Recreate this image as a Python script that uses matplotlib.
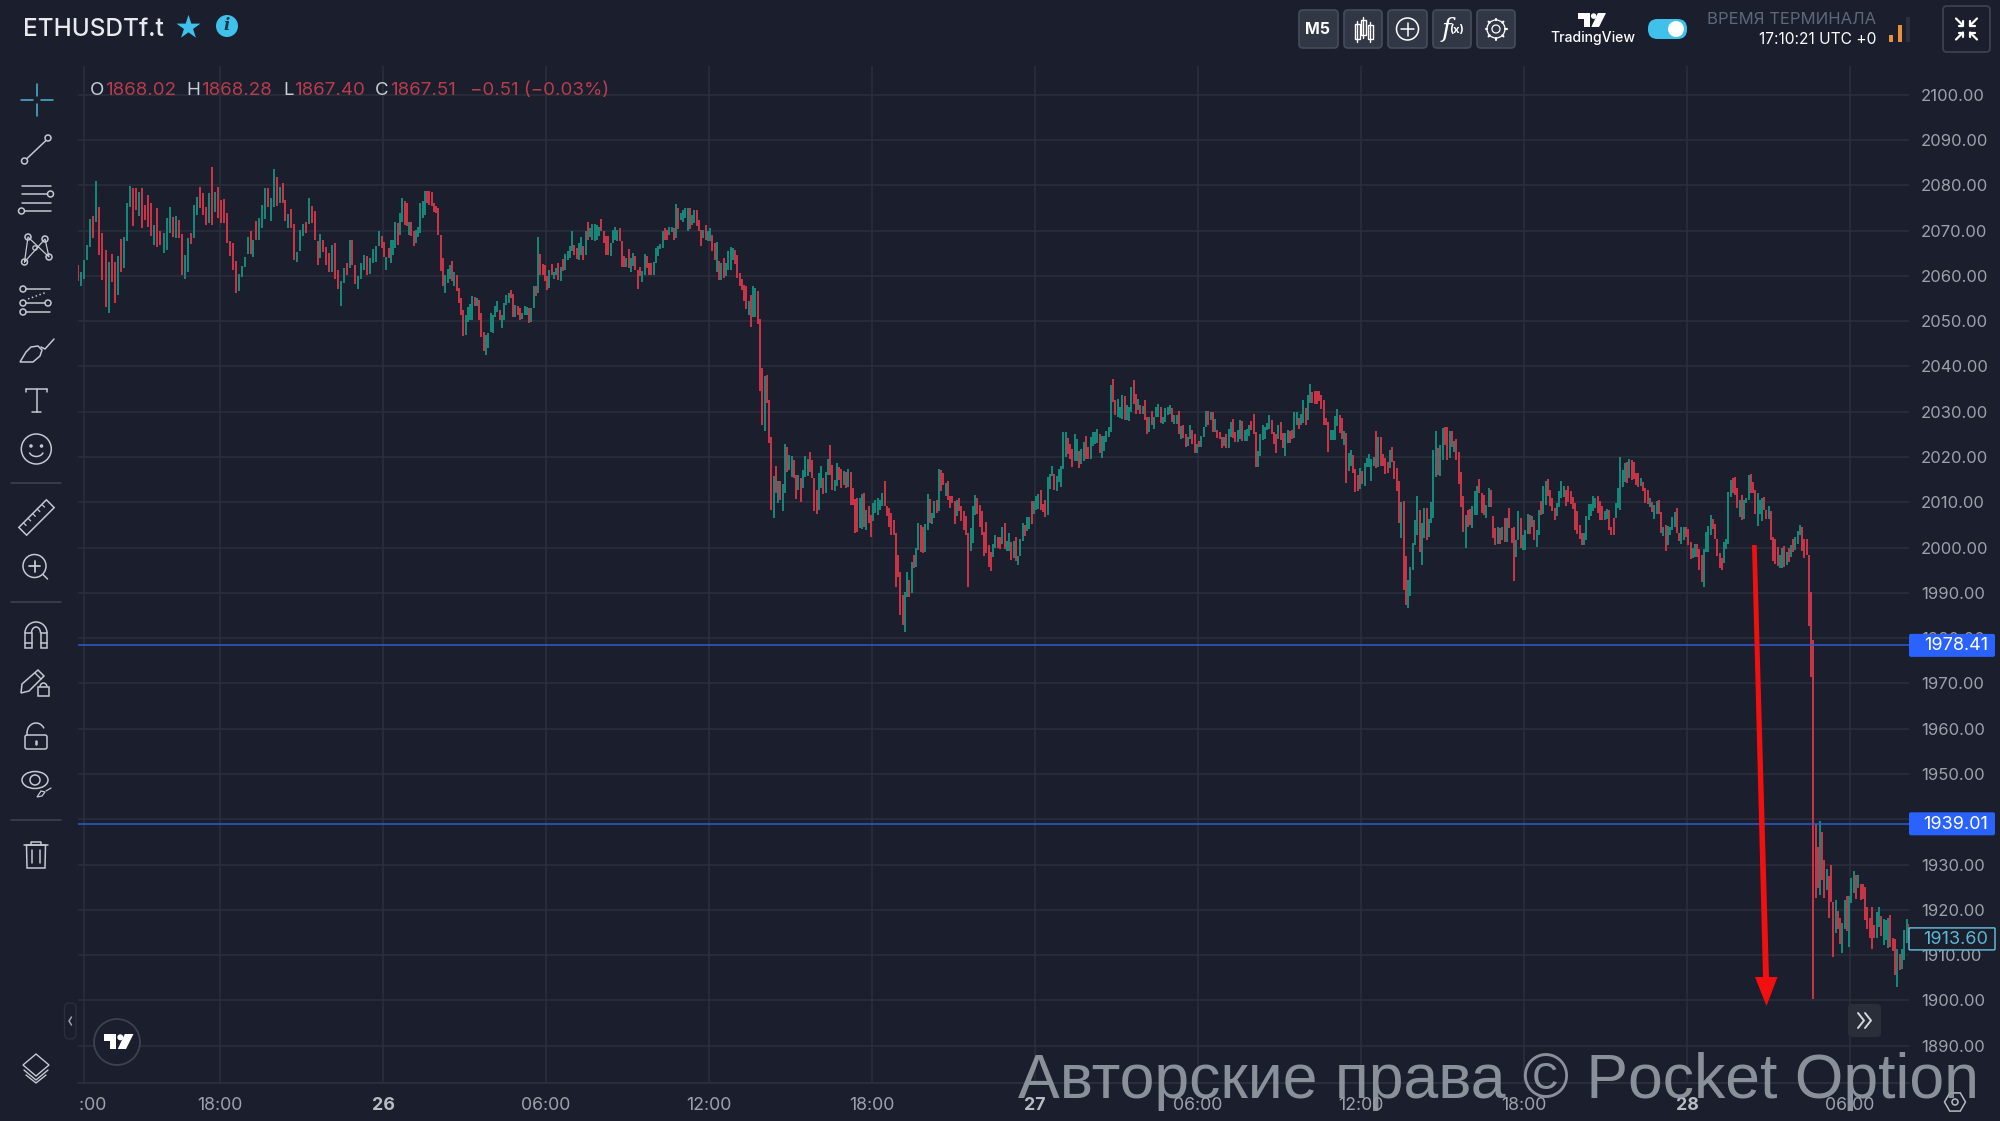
import numpy as np
import matplotlib
matplotlib.use('Agg')
import matplotlib.pyplot as plt
from matplotlib.patches import Rectangle, Circle, Polygon, FancyBboxPatch, Ellipse, Arc

BG = '#1a1e2d'
GRID = '#2b2f3c'
ICON = '#c4c8d0'
UP = '#16897b'
DOWN = '#cb3548'
LABEL = '#9da2aa'
CYAN = '#3fc1ec'

# hours relative to 26th 00:00
tick_hours = [-11, -6, 0, 6, 12, 18, 24, 30, 36, 42, 48, 54]
tick_labels = ['13:00', '18:00', '26', '06:00', '12:00', '18:00', '27', '06:00', '12:00', '18:00', '28', '06:00']
price_ticks = list(range(1890, 2101, 10))
level_prices = [1978.41, 1939.01]
last_price = 1913.60

# every window is a list of (open, close), red when close < open
window_edges = [-11.28, -6, 0, 6, 12, 18, 24, 30, 36, 42, 48, 54, 56.2]

win_01 = [(2062.4,2058.9),(2057.8,2060.9),(2059.4,2063.5),(2063.5,2066.8),(2066.4,2072.5),(2073.3,2068.3),(2072,2081),
(2075.1,2064.6),(2069.4,2059.1),(2065.7,2053.2),(2051.7,2063),(2064.8,2058.7),(2063,2053.9),(2055.8,2064.4),(2068.1,2060.8),
(2061.7,2068.5),(2067.8,2076),(2075.3,2079.9),(2079.5,2071),(2079.5,2074.5),(2073.3,2078.5),(2079.5,2070.6),(2075.7,2072.3),
(2077.9,2070.9),(2076.2,2068.9),(2066.8,2071.2),(2074.9,2066.4),(2069.8,2066.8),(2065,2069.4),(2065.7,2072.7),(2069.4,2075.3),
(2073.1,2068.5),(2068.3,2073.3),(2072.3,2068.3),(2069.2,2060.2),(2059.4,2064.6),(2060.8,2068.3),(2069.4,2067),(2068.3,2075.7),
(2073.4,2077.5),(2079.7,2074.9),(2078.2,2073.4),(2075.3,2071.2),(2071.7,2078.2),(2084,2071.2),(2074.2,2078.6),(2079.7,2072.7)]

win_02 = [(2076.8,2071.6),(2077,2071.6),(2073.8,2067.2),(2067.8,2064.4),(2067.2,2061.4),(2063.3,2056.3),(2056.6,2060.5),
(2059.8,2062.2),(2062,2064.2),(2064.8,2068.5),(2069.9,2064.8),(2064.1,2067.9),(2072.2,2067.9),(2067.9,2072.7),(2070.5,2075.7),
(2072.5,2079.5),(2079.3,2075.3),(2072.1,2077.1),(2075.3,2083.6),(2081.9,2075.4),(2076,2079.7),(2080.4,2076),(2076.8,2072.1),
(2070.6,2073.6),(2074.7,2070.5),(2071.5,2063.5),(2063.1,2065.3),(2065.6,2070.1),(2068.8,2071.5),(2071.8,2069.4),(2071.5,2077.1),
(2075.4,2071.7),(2074.4,2067.9),(2067.8,2062.4),(2063.9,2069.2),(2067.9,2065.3),(2066.4,2062.5),(2065,2060.9),(2060.9,2066.8),
(2067.2,2059.4),(2061.3,2057),(2053.3,2058.9),(2058.5,2061.7),(2062.9,2060.2),(2061.7,2067.9),(2067.9,2062.4),(2062.4,2058.3),
(2057,2060),(2059.2,2062.9),(2061.4,2064.6),(2064.4,2060.2),(2060.4,2063.9),(2062.8,2065.9),(2063.1,2066.7),(2066.6,2070),(2068.7,2066.1)]

win_03 = [(2067.5,2064.2),(2061.3,2064.2),(2066.1,2064),(2062.8,2068),(2064.7,2068),(2066.2,2071.9),(2071.7,2066.9),(2069.1,2073.9),
(2072,2077.2),(2076.5,2071.3),(2076,2071),(2069.1,2072),(2072,2068.7),(2069.8,2066.7),(2067.3,2070.2),(2068.6,2070.9),
(2069.5,2076.1),(2072.8,2076.5),(2073.5,2078.8),(2078.8,2076),(2078.7,2075.7),(2078.5,2075.4),(2076.1,2074.2),(2075.5,2073.9),
(2075,2069.1),(2069.1,2061),(2063.9,2057.7),(2056.2,2060.3),(2058.4,2061.5),(2059.3,2062.5),(2063.2,2058.8),(2057.7,2060.9),
(2060.3,2056.6),(2057.3,2054.1),(2055.1,2051.4),(2052.5,2046.8),(2047,2051.4),(2049.9,2053.2),(2050.2,2053.8),(2050.3,2055.5),
(2055.3,2053.4),(2053.4,2055.1),(2054.7,2050.3),(2051.8,2046.5),(2047.7,2043.4),(2042.6,2047),(2044,2047.4),(2047.5,2051.8),
(2047.4,2051.4),(2051,2053.4),(2052.1,2054.4),(2052.4,2050.3),(2048.5,2051.4),(2050.2,2054),(2053.6,2055.8),(2054,2056.2),
(2056.9,2055.1),(2056,2051),(2051,2053.6),(2053.4,2051.4),(2052.9,2050.3),(2050.4,2051.8),(2051.4,2053.4),(2051.4,2053.2),
(2052.9,2049.7),(2049.9,2052.9),(2052.9,2057.8),(2057.8,2055.6),(2056.2,2068.5),(2064.8,2060.3),(2062.7,2060.3),(2062.3,2058.8)]

win_04 = [(2059.9,2056.9),(2057.3,2061.4),(2062.7,2060.3),(2059.3,2060.8),(2060.3,2061.7),(2062.8,2059.1),(2058.8,2062),(2063.7,2061),
(2061.4,2064.9),(2063.6,2065.4),(2063.9,2066.5),(2065.4,2070),(2066.9,2064.5),(2066.1,2063.7),(2063.4,2067.3),(2064.5,2068.6),
(2066.7,2063.4),(2064.7,2070),(2071.9,2068),(2068.6,2070.6),(2068,2071.5),(2067.8,2071.5),(2068,2071.3),(2068.7,2070.9),
(2072.6,2069.8),(2069.8,2067.3),(2068.7,2064.5),(2068.7,2064.5),(2064.3,2067.3),(2067.3,2070.2),(2068,2070.9),(2067.6,2070.2),
(2070.6,2067.6),(2067.6,2061.9),(2064.3,2061.9),(2061.9,2063.9),(2065.9,2061.7),(2060.8,2063.9),(2062.2,2065),(2064.3,2061.4),
(2061.4,2057.2),(2062,2059.9),(2058.6,2061),(2060.3,2064.9),(2064.3,2061.7),(2062.8,2060.3),(2062.8,2060.3),(2060.3,2063),
(2062.8,2066.1),(2064.3,2066.5),(2066,2067),(2066.1,2070),(2070.6,2068),(2070.2,2068),(2069.1,2070.8),(2069.6,2070.9),
(2070.6,2068),(2068.4,2075.9),(2075,2070.3),(2072.3,2073.9),(2072,2074.6),(2072.8,2075),(2070,2075),(2075,2070.4),
(2071.3,2073.5),(2071.7,2074.5),(2074.5,2071.1),(2072.4,2069.8),(2070.2,2066.5),(2068.4,2070.2),(2071.3,2068),(2067.8,2069.8)]

win_05 = [(2067.8,2070.6),(2069.1,2065.6),(2067.3,2063.6),(2060.8,2067.4),(2063.2,2059),(2059.1,2062.8),(2063.9,2059.5),(2060,2062.8),
(2061.4,2065.4),(2061.2,2066.3),(2063.6,2066.1),(2065.8,2062.7),(2064.7,2059.5),(2060.6,2057.7),(2059.3,2056.8),(2058,2054.4),
(2057.8,2052.7),(2051.4,2054.4),(2055.8,2048.8),(2050.9,2057.7),(2051,2057.3),(2056.6,2049.4),(2050.4,2034.5),(2039.6,2027.1),
(2025.8,2037.8),(2038.2,2031.9),(2032.6,2023.1),(2024.4,2008.3),(2006.5,2015.9),(2018.1,2012),(2009.8,2014.6),(2014.8,2010.5),
(2008,2014.1),(2012,2022.9),(2022.3,2016.8),(2017.2,2020.5),(2015.7,2020.3),(2019.4,2015.3),(2016.1,2010.8),(2012.8,2016.1),
(2015.3,2010),(2013.1,2017.2),(2015.6,2020.3),(2015.9,2019.5),(2021.2,2016.8),(2019.4,2015.3),(2015.3,2008),(2012.8,2007.5),
(2008.3,2016.4),(2013.1,2018.1),(2015.3,2011.9),(2012,2016.8),(2016.1,2019.5),(2022.7,2016.1),(2018.3,2012.8),(2012.6,2015),
(2013.5,2018.7),(2017.9,2015),(2017.3,2013.1),(2013.9,2017),(2016.8,2013.1),(2013.3,2017.4),(2016.8,2009.4),(2013.1,2009.4),
(2010.7,2003.3),(2010.9,2003.5),(2004.3,2010.9),(2004.1,2011.9),(2012,2004.6),(2003.9,2008.3),(2009.1,2005.5),(2007.2,2002.3)]

win_06 = [(2005.8,2009.8),(2007.6,2010.5),(2007.2,2010.9),(2008.3,2010.5),(2009.1,2012),(2014.6,2009.1),(2009.1,2006.9),(2008.7,2004.6),
(2007.6,2002.8),(2006.1,2002.8),(2003.2,1991.4),(1998.4,1993.6),(1994.7,1985.1),(1989.5,1982.9),(1981.3,1990.1),(1989.2,1994.7),
(1992.9,1989.2),(1989.9,1996.9),(1998.4,1995.4),(1995.8,1999.9),(1999.5,2005.4),(2005,1999.1),(2004.6,1998.9),(1999.1,2005.2),
(2003.9,2011.9),(2010.8,2005.4),(2005.2,2007.6),(2006.5,2010.2),(2010.5,2007.6),(2008,2017.4),(2017.2,2012.4),(2016.4,2013.9),
(2011.4,2014.2),(2014.7,2010.5),(2011.3,2008.7),(2011.3,2009.8),(2010.2,2005.2),(2006.9,2010.5),(2010.9,2008),(2009.1,2005.8),
(2008,2003.9),(2006.9,2002.8),(2003.2,1991.4),(1999.3,2004.3),(2001.1,2009.1),(2007.2,2011.6),(2010.9,2007.5),(2009.4,2004.5),
(2008,2002.8),(2003.5,1998.2),(2005.6,1998.9),(2000.5,1995.8),(1999.1,1994.9),(1998,2000.8),(1999.9,2002.8),(2002.4,1999.9),
(2002.3,1999.7),(2000.8,2004.5),(2005.4,1999.7),(1999.3,2001.5),(1999.3,2003.2),(2001.2,1997.3),(1997.8,2001.5),(2002.3,1997.1),
(1996.2,1998.2),(1998.2,2001.8),(2001.5,2005.4),(2004.9,2002.6),(2003.7,2006.8),(2004.1,2006.8),(2010.2,2005.2),(2007.4,2010.2)]

win_07 = [(2008.2,2011.5),(2008.5,2011.8),(2012.7,2008.2),(2009.6,2007.8),(2010.6,2006.7),(2007.1,2015.5),(2013,2016.3),(2015.9,2018.1),
(2016.3,2012.7),(2012.4,2015.9),(2014.4,2017.4),(2013.3,2018.1),(2017.4,2025.5),(2020,2025.5),(2024.2,2020.7),(2022.9,2019.6),
(2021.8,2017.7),(2019.2,2025.1),(2019.2,2024),(2021.4,2017.6),(2018.5,2021.8),(2019.2,2023.4),(2024.7,2019.6),(2022.2,2019.6),
(2019.6,2024.5),(2022.5,2025.5),(2022.9,2025.5),(2023.1,2026.2),(2025,2020.8),(2019.7,2024.7),(2021.4,2024.7),(2023.3,2025.7),
(2024.4,2026.7),(2025.5,2035.8),(2037.3,2032.1),(2032.5,2029.2),(2028.8,2032.9),(2028.7,2031),(2028.4,2033.6),(2033.4,2028.2),
(2028.1,2031.4),(2027.9,2031),(2029.9,2035.4),(2036.9,2031.7),(2034,2029.5),(2030.3,2032.9),(2031.4,2029.5),(2029.4,2031.2),
(2032.6,2028.1),(2028.8,2025),(2025.5,2028.8),(2030.1,2027),(2026.2,2028.8),(2028.8,2031),(2028.8,2031.6),(2031,2027.5),
(2027.3,2028.9),(2027.7,2030.9),(2029.2,2031),(2029.5,2031.4),(2030.8,2027.7),(2027.2,2029.2),(2027.3,2029.2),(2030.1,2025),
(2024,2026.8),(2027.1,2024.2),(2025,2022.2),(2022.5,2024.5),(2024,2027),(2026,2022.9),(2025.1,2020.9),(2020.9,2022.9)]

win_08 = [(2023.6,2022.2),(2022.2,2024.7),(2024.4,2026.7),(2026.6,2030.1),(2030.1,2027),(2028.2,2029.9),(2029.9,2025.5),(2025.5,2028.4),
(2026,2024.2),(2025.5,2024),(2024.5,2022),(2022.5,2024.5),(2025.1,2022),(2022,2026.2),(2024.5,2027.8),(2028.4,2024.2),
(2025.5,2023.3),(2023.3,2025.9),(2024,2028.2),(2027.9,2023.6),(2023.6,2026),(2023.6,2026.2),(2024.7,2027),(2027.9,2025.9),
(2029.4,2025.1),(2025.5,2017.9),(2017.9,2021.4),(2020.3,2025),(2023.8,2027.1),(2024,2026.7),(2026,2027.5),(2026.2,2029.2),
(2028.2,2025),(2025.5,2022.9),(2025.1,2020.8),(2024,2027),(2027.7,2023.8),(2025.3,2022),(2020.3,2025.3),(2023.1,2026),
(2025.7,2023.2),(2026,2024),(2024.2,2029.9),(2027.1,2029.9),(2028.6,2026.2),(2027.1,2029.6),(2027.5,2032.7),(2030.8,2027.1),
(2028.2,2033.8),(2031.9,2036.2),(2034.3,2031.9),(2034.5,2031.8),(2034.5,2031.8),(2034.6,2032.3),(2033.8,2030.6),(2032.7,2027.1),
(2028.6,2027),(2027.7,2021),(2023.8,2026),(2023.8,2025.9),(2023.8,2029),(2026.8,2030.6),(2029.3,2025.3),(2028.6,2024),
(2022.7,2025.7),(2025.3,2014.2),(2017,2020.9),(2018.1,2021.6),(2020.5,2016.4),(2017.3,2012.2),(2016.1,2012.4),(2012.9,2017.5)]

win_09 = [(2017,2014.1),(2013.5,2018.7),(2017.8,2019.8),(2017.9,2020.7),(2014.8,2019.5),(2018.1,2020),(2025.7,2017.5),(2017.8,2024.5),
(2024.4,2018.1),(2020.7,2018.1),(2019.8,2016.3),(2019,2016.4),(2017.5,2021.5),(2022.2,2019),(2019.2,2015.1),(2017.5,2012.6),
(2014.6,2005.4),(2002.1,2010),(2010.3,1990.6),(1998.2,1987.3),(1986.6,1992.9),(1989.3,1995.8),(1995.1,2001),(2000.6,2006.1),
(2002.8,2011.3),(2008.3,1999.1),(1996.2,2005.4),(2002.1,2008.7),(2008.7,2001.6),(2002.3,2006.3),(2005.5,2010),(2006.5,2021.6),
(2015.7,2025.7),(2022,2016.1),(2015.9,2022.6),(2019.4,2026.4),(2026.6,2022.7),(2026.6,2019.4),(2019.8,2025.7),(2025.7,2022.3),
(2021,2023.6),(2024,2019.4),(2021.2,2014.1),(2016.6,2008.9),(2011.4,2003.5),(2000,2007.2),(2008.3,2004.6),(2008.5,2005),
(2004.3,2009.2),(2007.2,2012.4),(2007.2,2013.5),(2015.2,2012),(2012,2007.6),(2011.7,2007.2),(2006.5,2009.4),(2008.9,2013.1),
(2012.8,2008.9),(2006.9,2002.1),(2004.3,2000.6),(2000.8,2004.5),(2004.3,2000.8),(2001.7,2004.6),(2006.5,2001.3),(2001.2,2006.5),
(2008.7,2004.3),(2004.3,2001),(2004.5,1992.7),(1998,2001.7),(2001.7,2008.1),(2006.5,1999.9),(1999.5,2002.8)]

win_10 = [(1999.5,2003.9),(2003,2007.5),(2007.2,2003),(2004.6,2007),(2006.1,2001.6),(2000.2,2003.9),(2002.8,2008.2),(2010.4,2007.2),
(2007.4,2013.5),(2009.4,2014.6),(2015.2,2011.3),(2012.8,2009.1),(2010.9,2008),(2008.7,2006),(2006.9,2009.8),(2008.9,2012.4),
(2010.9,2014.6),(2011.1,2013.6),(2012.8,2009.1),(2013.6,2010),(2012.4,2009.7),(2011.1,2008.5),(2009.8,2003.9),(2008,2003),
(2005,2001.9),(2003.3,2000.6),(2000.5,2003.2),(2001.7,2007),(2006.1,2009.7),(2007,2009.7),(2008,2011.4),(2008.7,2010.9),
(2011.3,2007.7),(2010.4,2006.1),(2009.1,2006.1),(2006,2008),(2006.3,2008.5),(2008.3,2003.9),(2004.6,2002.8),(2006.5,2002.8),
(2006.5,2009.8),(2008.7,2013.1),(2008.3,2020),(2013.4,2017.1),(2014.5,2018.7),(2019,2014.3),(2015.3,2019.5),(2019.3,2014.9),
(2019,2015.1),(2016.5,2013.8),(2016.4,2013.4),(2013.6,2015.3),(2014.5,2012.6),(2013.1,2009.8),(2012.7,2009.6),(2009,2010.9),
(2010.1,2007.9),(2006.3,2009.4),(2007.5,2010.3),(2010.5,2007.5),(2007.9,2003.3),(2002.5,2004.6),(2005,1999.3),(2000.5,2004.7),
(2002.8,2004.5),(2003.9,2006.7),(2004.5,2007.9),(2008.7,2003.3),(2003.3,2001.5),(2000.8,2004.5),(2001.7,2004.5),(2004.5,2002.4)]

win_11 = [(2004,2000.5),(2001.3,1997.4),(1997.6,2000),(1998,2000.9),(2000.9,1998),(1999.6,1995),(1998.3,1992.4),(1991.3,1999.6),
(1999.1,2003.5),(1999.1,2004.7),(2002.8,2007.2),(2006.4,2004.2),(2005.3,2001.9),(2001.9,1998.1),(1998.7,1995.6),(1997.8,1995),
(1996.5,2001.3),(1999.8,2001.9),(2000.9,2012.3),(2011.2,2014.9),(2015.3,2012),(2015.7,2011.7),(2013.1,2008.7),(2006.8,2010.5),
(2011.6,2006.2),(2006.4,2010.6),(2009.8,2010.9),(2010.5,2016),(2016.2,2012),(2014.5,2012),(2012.7,2007.4),(2004.7,2012),
(2007.5,2010.5),(2005.9,2010.9),(2011.1,2008.3),(2008.4,2006.3),(2006.4,2009.2),(2008.1,2001.7),(2002.4,1997.1),(2001.8,1996.3),
(2000.2,1995.9),(1995.4,1998.3),(1995.6,2000),(2000.3,1995.8),(1996.1,1999.1),(2000,1996.9),(1998,2000.5),(2002,1999.1),
(1999.4,2002.4),(2000.9,2003.7),(2002.8,2005),(2004.5,1999.3),(2002,1997.8),(2002,1998.3),(1998.3,1982.6),(1990.2,1971.5),
(1979.6,1900.3),(1939,1922.7),(1934,1924.8),(1923.4,1939.6),(1937.3,1926.6),(1931,1922.6),(1924.4,1929),(1927.4,1918.2),
(1930,1921.8),(1921.8,1909.5),(1915,1922.3),(1919.8,1915.7),(1918.3,1912.4),(1910.4,1917.2),(1915.7,1922.2),(1923,1915.3),(1911.8,1923)]

win_12 = [(1921.6,1927),(1923.7,1928.6),(1927.7,1922.4),(1924.8,1927.7),(1925.8,1922.2),(1925.8,1922.4),(1925,1917.7),(1920.7,1915.7),
(1918.2,1913.8),(1920.6,1911.3),(1916.6,1913.8),(1913.8,1919.6),(1916.2,1920.6),(1918.6,1914.2),(1912.2,1918),(1913.4,1917.8),
(1911.5,1918.2),(1918.9,1911.9),(1913.8,1911),(1913.5,1905.6),(1903,1911.3),(1910.3,1906.7),(1907,1911.3),(1908.9,1915.5),
(1912.6,1917.9),(1917,1913.4)]

windows = [win_01, win_02, win_03, win_04, win_05, win_06, win_07, win_08, win_09, win_10, win_11, win_12]

plt.rcParams['font.family'] = ['Inter', 'DejaVu Sans']

fig = plt.figure(figsize=(20, 11.21), dpi=100, facecolor=BG)

# chart panel, pixel box 78..1909 x 66..1083
ax = fig.add_axes([78/2000, 1 - 1082.7/1121, (1909-78)/2000, (1082.7-66)/1121], facecolor=BG)

hours, lows, highs, colors = [], [], [], []
for w, win in enumerate(windows):
    dt = (window_edges[w+1] - window_edges[w]) / len(win)
    for i, (o, c) in enumerate(win):
        hours.append(window_edges[w] + (i + 0.5) * dt)
        lows.append(min(o, c))
        highs.append(max(o, c))
        colors.append(UP if c >= o else DOWN)

ax.vlines(hours, lows, highs, colors=colors, linewidth=1.4, zorder=3, capstyle='butt')
for p in level_prices:
    ax.axhline(p, color='#2f5bd0', linewidth=1.1, zorder=4)

ax.set_xlim(-11.226, 56.165)
ax.set_ylim(1881.85, 2106.34)
ax.set_xticks(tick_hours)
ax.set_xticklabels(tick_labels)
ax.set_yticks(price_ticks)
ax.set_yticklabels([f'{p:.2f}' for p in price_ticks])
ax.yaxis.tick_right()
ax.tick_params(axis='y', length=0, pad=8.6, labelsize=12, labelcolor=LABEL)
ax.tick_params(axis='x', length=0, pad=10, labelsize=12.8, labelcolor=LABEL)
for lab in ax.get_xticklabels():
    if lab.get_text() in ('26', '27', '28'):
        lab.set_fontweight('bold')
        lab.set_color('#b8bcc3')
ax.grid(True, color=GRID, linewidth=1.1)
ax.set_axisbelow(True)
for side in ['top', 'left', 'right']:
    ax.spines[side].set_visible(False)
ax.spines['bottom'].set_color(GRID)
ax.spines['bottom'].set_linewidth(1.4)

# overlay in pixel coordinates for the terminal chrome
ov = fig.add_axes([0, 0, 1, 1], zorder=5)
ov.set_xlim(0, 2000)
ov.set_ylim(1121, 0)
ov.axis('off')
ov.patch.set_alpha(0)


def price_y(p):
    return 94.7 + (2100 - p) * 4.529


def ln(xs, ys, color=ICON, lw=1.1, **kw):
    ov.plot(xs, ys, color=color, linewidth=lw, solid_capstyle='round', **kw)


def circ(x, y, r, ec=ICON, fc='none', lw=1.1):
    ov.add_patch(Circle((x, y), r, ec=ec, fc=fc, lw=lw))


def box(x0, y0, x1, y1, fc, ec='none', lw=1, rad=3):
    ov.add_patch(FancyBboxPatch((x0 + rad, y0 + rad), x1 - x0 - 2*rad, y1 - y0 - 2*rad,
                                boxstyle=f'round,pad={rad}', fc=fc, ec=ec, lw=lw))


def tv_logo(x, y, s, color='white'):
    # x, y is the top left corner, s the height
    ov.add_patch(Polygon([(x, y), (x + .86*s, y), (x + .86*s, y + s), (x + .43*s, y + s),
                          (x + .43*s, y + .45*s), (x, y + .45*s)], fc=color, ec='none'))
    circ(x + 1.12*s, y + .22*s, .2*s, ec='none', fc=color)
    ov.add_patch(Polygon([(x + 1.42*s, y), (x + 2*s, y), (x + 1.5*s, y + s), (x + .95*s, y + s)], fc=color, ec='none'))


# hide the cut part of the first time label
ov.add_patch(Rectangle((0, 1088), 78, 30, fc=BG, ec='none'))

# price boxes
for p in level_prices:
    y = price_y(p)
    box(1909, y - 11.5, 1995, y + 11.5, '#2962ff', rad=2)
    ov.text(1988, y + 0.5, f'{p:.2f}', color='white', fontsize=13, ha='right', va='center')
y = price_y(last_price)
box(1909, y - 11, 1995, y + 11, BG, ec='#5fb6d3', lw=1.1, rad=1)
ov.text(1988, y + 0.5, f'{last_price:.2f}', color='#5fb6d3', fontsize=13, ha='right', va='center')

# header
ov.text(23, 29.5, 'ETHUSDTf.t', color='#e8eaee', fontsize=17.5, fontweight='medium', va='center')
ov.scatter([188], [27], marker='*', s=330, color=CYAN, linewidths=0)
circ(227, 26, 11, ec='none', fc=CYAN)
ov.text(227, 26, 'i', color='#16384a', fontsize=12, fontweight='bold', fontstyle='italic', family='DejaVu Serif', ha='center', va='center')

# OHLC legend
for x, s in [(90, 'O'), (186, 'H'), (283, 'L'), (375, 'C')]:
    ov.text(x, 90.5, s, color='#c8ccd4', fontsize=13.5, va='center')
for x, s in [(105, '1868.02'), (201, '1868.28'), (294, '1867.40'), (390, '1867.51'), (470, '\u22120.51 (\u22120.03%)')]:
    ov.text(x, 90.5, s, color='#b73c4c', fontsize=13.5, va='center')

# top toolbar
for x0, x1 in [(1299, 1338), (1344, 1382), (1388, 1427), (1433, 1471), (1477, 1515)]:
    box(x0, 10, x1, 48, '#323746', ec='#474c5a', lw=1.2, rad=4)
ov.text(1318, 30, 'M5', color='white', fontsize=11.5, fontweight='bold', ha='center', va='center')
for x, y0, y1 in [(1357, 24, 39), (1363, 20, 35), (1370, 25, 39)]:
    ov.add_patch(Rectangle((x - 2.5, y0), 5, y1 - y0, fc='none', ec='white', lw=1))
    ln([x, x], [y0 - 3, y1 + 3], color='white', lw=1)
circ(1407.5, 29, 11, ec='white')
ln([1401, 1414], [29, 29], color='white')
ln([1407.5, 1407.5], [22.5, 35.5], color='white')
ov.text(1446, 30, 'f', color='white', fontsize=19, fontstyle='italic', family='DejaVu Serif', ha='center', va='center')
ov.text(1457, 30, '(x)', color='white', fontsize=8, fontweight='bold', ha='center', va='center')
gear = np.linspace(0, 2*np.pi, 8, endpoint=False)
for a in gear:
    ln([1496 + 9*np.cos(a), 1496 + 10.5*np.cos(a)], [29 + 9*np.sin(a), 29 + 10.5*np.sin(a)], color='white', lw=1.5)
circ(1496, 29, 9, ec='white', lw=0.9)
circ(1496, 29, 4, ec='white', lw=0.9)

tv_logo(1578, 13, 14)
ov.text(1592.5, 38, 'TradingView', color='white', fontsize=10.1, fontweight='medium', ha='center', va='center')
box(1648, 19, 1687, 39, CYAN, rad=9.5)
circ(1676, 29, 8, ec='none', fc='white')
ov.text(1876, 19, '\u0412\u0420\u0415\u041c\u042f \u0422\u0415\u0420\u041c\u0418\u041d\u0410\u041b\u0410', color='#5f6779', fontsize=12, ha='right', va='center')
ov.text(1876, 40, '17:10:21 UTC +0', color='white', fontsize=11.2, ha='right', va='center')
for x, y0, c in [(1891, 35, '#e8913a'), (1900, 25, '#e8913a'), (1908, 17, '#2b3040')]:
    ov.add_patch(Rectangle((x - 2, y0), 4, 42 - y0, fc=c, ec='none'))
box(1943, 6, 1990, 52, BG, ec='#3a3f4d', lw=1.4, rad=4)
for sx, sy in [(-1, -1), (1, -1), (-1, 1), (1, 1)]:
    cx, cy = 1966.5 + 7*sx, 29 + 7*sy
    ln([cx + 3.5*sx, cx - 3.5*sx], [cy + 3.5*sy, cy - 3.5*sy], color='white', lw=1.6)
    ln([cx - 3.5*sx, cx - 3.5*sx, cx + 1*sx], [cy + 1*sy, cy - 3.5*sy, cy - 3.5*sy], color='white', lw=1.6)

# left toolbar
ln([36.7, 36.7], [84, 96], color='#4db5d6')
ln([36.7, 36.7], [104, 116], color='#4db5d6')
ln([21, 32.5], [100, 100], color='#4db5d6')
ln([41, 53], [100, 100], color='#4db5d6')

ln([27, 46], [158.5, 140.5])
circ(24.5, 161, 3)
circ(48, 138, 3)

for y in [186, 203]:
    ln([22, 51], [y, y])
ln([22, 47], [194, 194])
circ(50.5, 194, 3)
ln([24.5, 51], [211, 211])
circ(21.5, 211, 3)

nodes_x = [28, 45, 24.5, 49]
nodes_y = [237, 239, 262, 257]
ln([24.5, 28, 49, 45, 24.5], [262, 237, 257, 239, 262], lw=0.9)
for x, y in zip(nodes_x, nodes_y):
    circ(x, y, 3, fc=BG)
circ(35, 248, 2.2, fc=BG, lw=0.9)

ln([26, 50], [289, 289])
circ(23, 289, 3)
ln([26, 45], [303, 303])
circ(23, 303, 3)
circ(48, 303, 3)
ln([26, 50], [312, 312])
circ(23, 312, 3)
ln([28, 47], [299, 292], linestyle=':')

ov.add_patch(Polygon([(20, 362), (33, 362), (40, 356), (42, 350), (38, 346), (31, 347), (26, 352)], fc='none', ec=ICON, lw=1.1))
ln([41, 45, 54], [347, 349, 339])

ln([36.5, 36.5], [389, 412])
ln([26, 47], [389, 389])
ln([26, 26], [389, 392])
ln([47, 47], [389, 392])
ln([32, 41], [412, 412])

circ(36.3, 449, 15)
circ(31, 446, 1, ec=ICON, fc=ICON)
circ(41.5, 446, 1, ec=ICON, fc=ICON)
ov.add_patch(Arc((36.3, 450), 15, 13, theta1=20, theta2=160, ec=ICON, lw=1.1))

for y in [483, 601.7, 820]:
    ln([11, 61], [y, y], color='#3c414e', lw=1.2)

ov.add_patch(Rectangle((36.5 - 19.5, 517.5 - 5.5), 39, 11, angle=-45, rotation_point='center', fc='none', ec=ICON, lw=1.1))
for k in [-13, -6.5, 0, 6.5, 13]:
    bx, by = 36.5 + k*0.707, 517.5 - k*0.707
    ln([bx - 3.9, bx - 1.2], [by - 3.9, by - 1.2], lw=0.9)

circ(34.5, 566, 11.5)
ln([43, 47.5], [574.5, 579])
ln([29, 40], [566, 566], lw=1.3)
ln([34.5, 34.5], [560.5, 571.5], lw=1.3)

ov.add_patch(Arc((36, 633), 22, 22, theta1=180, theta2=360, ec=ICON, lw=1.1))
ov.add_patch(Arc((36, 633), 9, 12, theta1=180, theta2=360, ec=ICON, lw=1.1))
ov.add_patch(Rectangle((25, 633), 6.5, 15, fc='none', ec=ICON, lw=1.1))
ov.add_patch(Rectangle((40.5, 633), 6.5, 15, fc='none', ec=ICON, lw=1.1))
ln([25, 31.5], [643, 643])
ln([40.5, 47], [643, 643])

ov.add_patch(Polygon([(21, 693), (22, 684), (38, 670), (44, 676), (29, 691)], fc='none', ec=ICON, lw=1.1))
ln([35, 41], [673, 679], lw=1)
ov.add_patch(Rectangle((38, 687), 11, 9, fc=BG, ec=ICON, lw=1.1))
ov.add_patch(Arc((43.5, 687), 7, 8, theta1=180, theta2=360, ec=ICON, lw=1.1))

box(25, 735, 47, 749, 'none', ec=ICON, lw=1.1, rad=2)
ov.add_patch(Arc((36, 733), 18, 20, theta1=180, theta2=330, ec=ICON, lw=1.1))
ln([27, 27], [733, 735])
ln([36, 36], [741, 744], lw=1.8)

ov.add_patch(Ellipse((35, 780), 26, 17, fc='none', ec=ICON, lw=1.1))
circ(35, 780, 5)
ov.add_patch(Polygon([(37, 797), (42, 796), (45, 792), (41, 791)], fc='none', ec=ICON, lw=0.9))
ln([46, 51], [791, 788], lw=0.9)

ln([24, 48], [845, 845])
ln([31, 31, 41, 41], [845, 842, 842, 845])
ov.add_patch(Polygon([(26.5, 845), (45.5, 845), (45, 868), (27, 868)], fc='none', ec=ICON, lw=1.1))
ln([32, 32], [850, 863])
ln([40, 40], [850, 863])

ov.add_patch(Polygon([(23, 1065), (36, 1054), (49, 1065), (36, 1076)], fc='none', ec=ICON, lw=1))
ln([24, 36, 48], [1070, 1080, 1070], lw=1)
ln([26, 36, 46], [1075, 1083, 1075], lw=1)

# small chart controls
box(64.5, 1003, 76, 1039, BG, ec='#2b2f3c', lw=1, rad=5)
ln([71.5, 69, 71.5], [1017, 1021, 1025], color='#9da2aa')
circ(117, 1042, 23, ec='#3d424f', fc=BG, lw=1.3)
tv_logo(103.5, 1034, 15)
box(1848, 1004, 1881, 1037, '#2a2e39', rad=4)
ln([1858, 1864, 1858], [1013, 1020.5, 1028], color='#d5d8de', lw=1.4)
ln([1865, 1871, 1865], [1013, 1020.5, 1028], color='#d5d8de', lw=1.4)
hex_a = np.radians(np.arange(0, 360, 60))
ov.add_patch(Polygon(np.c_[1955 + 10.5*np.cos(hex_a), 1102 + 10.5*np.sin(hex_a)], fc='none', ec='#b5b9c0', lw=1.1))
circ(1955, 1102, 3, ec='#b5b9c0')

# drawn arrow
ov.add_patch(Polygon([(1752, 545), (1756.7, 545), (1769, 978), (1763, 978)], fc='#f20f10', ec='none'))
ov.add_patch(Polygon([(1755, 977), (1777.5, 977), (1766.5, 1006)], fc='#f20f10', ec='none'))

# watermark
ov.text(1018, 1098, '\u0410\u0432\u0442\u043e\u0440\u0441\u043a\u0438\u0435 \u043f\u0440\u0430\u0432\u0430 \u00a9 Pocket Option',
        color='#959ba3', alpha=0.92, fontsize=45, family='Liberation Sans', ha='left', va='baseline')

plt.savefig('out.png', dpi=100, facecolor=BG)
